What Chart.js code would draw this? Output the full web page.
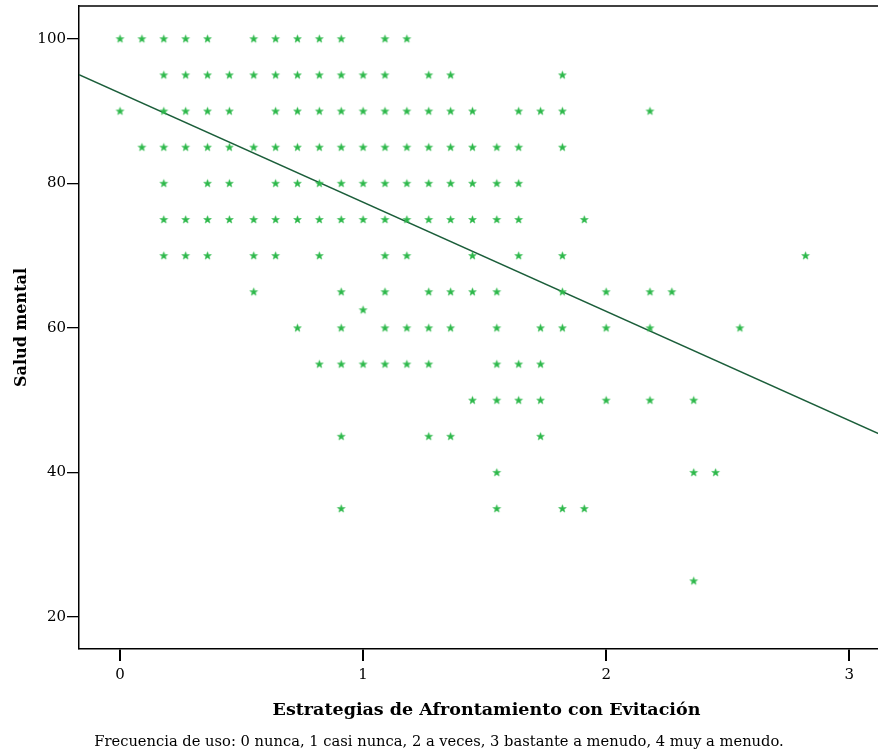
<!DOCTYPE html>
<html>
<head>
<meta charset="utf-8">
<script src="https://cdn.jsdelivr.net/npm/chart.js@4.4.1/dist/chart.umd.min.js"></script>
<style>
    html, body { margin: 0; padding: 0; background: #fff; overflow: hidden; }
    #wrap { position: absolute; left: 0; top: 0; width: 900px; height: 753px; }
    #nota {
        position: absolute; left: 0; top: 732px; width: 878px;
        text-align: center; font-family: "DejaVu Serif", serif; font-size: 14.7px; color: #000;
    }
</style>
</head>
<body>
<div id="wrap"><canvas id="grafico" width="900" height="753"></canvas></div>
<div id="nota">Frecuencia de uso: 0 nunca, 1 casi nunca, 2 a veces, 3 bastante a menudo, 4 muy a menudo.</div>
<script>
// ============================================
// DATOS
// ============================================

// Niveles de salud mental (eje Y) donde aparecen casos
const saludNiveles = [100, 95, 90, 85, 80, 75, 70, 65, 62.5, 60, 55, 50, 45, 40, 35, 25];

// Puntuaciones de evitación (eje X) para cada nivel, mismo orden que saludNiveles
const evitacionPorNivel = [
    [0, 0.09, 0.18, 0.27, 0.36, 0.55, 0.64, 0.73, 0.82, 0.91, 1.09, 1.18],
    [0.18, 0.27, 0.36, 0.45, 0.55, 0.64, 0.73, 0.82, 0.91, 1.00, 1.09, 1.27, 1.36, 1.82],
    [0, 0.18, 0.27, 0.36, 0.45, 0.64, 0.73, 0.82, 0.91, 1.00, 1.09, 1.18, 1.27, 1.36, 1.45, 1.64, 1.73, 1.82, 2.18],
    [0.09, 0.18, 0.27, 0.36, 0.45, 0.55, 0.64, 0.73, 0.82, 0.91, 1.00, 1.09, 1.18, 1.27, 1.36, 1.45, 1.55, 1.64, 1.82],
    [0.18, 0.36, 0.45, 0.64, 0.73, 0.82, 0.91, 1.00, 1.09, 1.18, 1.27, 1.36, 1.45, 1.55, 1.64],
    [0.18, 0.27, 0.36, 0.45, 0.55, 0.64, 0.73, 0.82, 0.91, 1.00, 1.09, 1.18, 1.27, 1.36, 1.45, 1.55, 1.64, 1.91],
    [0.18, 0.27, 0.36, 0.55, 0.64, 0.82, 1.09, 1.18, 1.45, 1.64, 1.82, 2.82],
    [0.55, 0.91, 1.09, 1.27, 1.36, 1.45, 1.55, 1.82, 2.00, 2.18, 2.27],
    [1.00],
    [0.73, 0.91, 1.09, 1.18, 1.27, 1.36, 1.55, 1.73, 1.82, 2.00, 2.18, 2.55],
    [0.82, 0.91, 1.00, 1.09, 1.18, 1.27, 1.55, 1.64, 1.73],
    [1.45, 1.55, 1.64, 1.73, 2.00, 2.18, 2.36],
    [0.91, 1.27, 1.36, 1.73],
    [1.55, 2.36, 2.45],
    [0.91, 1.55, 1.82, 1.91],
    [2.36]
];

// Recta de regresión (ajuste lineal)
const intercepto = 92.49;
const pendiente = -15.10;

// Ejes
const xTicks = [0, 1, 2, 3];
const yTicks = [20, 40, 60, 80, 100];
const xMin = -0.1687, xMax = 3.184;
const yMin = 15.57, yMax = 104.53;

const tituloX = 'Estrategias de Afrontamiento con Evitación';
const tituloY = 'Salud mental';

// ============================================
// MARCADOR (asterisco verde)
// ============================================

function crearEstrella(color) {
    const c = document.createElement('canvas');
    c.width = 11; c.height = 11;
    const g = c.getContext('2d');
    g.fillStyle = color;
    g.strokeStyle = color;
    g.lineWidth = 0.5;
    g.lineJoin = 'round';
    g.beginPath();
    for (let i = 0; i < 10; i++) {
        const r = i % 2 === 0 ? 4.1 : 1.7;
        const a = -Math.PI / 2 + i * Math.PI / 5;
        const px = 5.5 + r * Math.cos(a);
        const py = 5.8 + r * Math.sin(a);
        if (i === 0) g.moveTo(px, py); else g.lineTo(px, py);
    }
    g.closePath();
    g.fill();
    g.stroke();
    return c;
}

const estrella = crearEstrella('#2db84a');

// ============================================
// CONSTRUIR PUNTOS
// ============================================

const puntos = [];
saludNiveles.forEach((nivel, i) => {
    evitacionPorNivel[i].forEach(x => puntos.push({ x: x, y: nivel }));
});

const recta = [
    { x: xMin, y: intercepto + pendiente * xMin },
    { x: xMax, y: intercepto + pendiente * xMax }
];

// Marco superior del área (el original es una caja)
const marcoPlugin = {
    id: 'marco',
    afterDraw(chart) {
        const { ctx, chartArea } = chart;
        ctx.save();
        ctx.strokeStyle = '#000';
        ctx.lineWidth = 1.5;
        ctx.beginPath();
        ctx.moveTo(chartArea.left, chartArea.top);
        ctx.lineTo(chartArea.right, chartArea.top);
        ctx.stroke();
        ctx.restore();
    }
};

// sin márgenes extra por las etiquetas de los extremos
function sinPadding(s) {
    s.paddingTop = 0; s.paddingBottom = 0;
    s.paddingLeft = 0; s.paddingRight = 0;
}

const fuente = '"DejaVu Serif", serif';

new Chart(document.getElementById('grafico').getContext('2d'), {
    type: 'scatter',
    data: {
        datasets: [
            {
                label: 'Casos',
                data: puntos,
                pointStyle: estrella,
                pointRadius: 5,
                pointHoverRadius: 5
            },
            {
                type: 'line',
                label: 'Ajuste',
                data: recta,
                borderColor: '#1b5e3a',
                borderWidth: 1.5,
                pointRadius: 0,
                fill: false,
                tension: 0
            }
        ]
    },
    options: {
        responsive: false,
        animation: false,
        layout: { padding: { top: 6, left: 0, right: 0, bottom: 0 } },
        plugins: { legend: { display: false }, tooltip: { enabled: false } },
        scales: {
            x: {
                type: 'linear',
                min: xMin,
                max: xMax,
                afterBuildTicks: s => { s.ticks = xTicks.map(v => ({ value: v })); },
                afterFit: s => { s.height = 104; sinPadding(s); },
                grid: { drawOnChartArea: false, drawTicks: true, tickLength: 12, color: '#000', lineWidth: 2 },
                border: { display: true, color: '#000', width: 1.5 },
                ticks: { color: '#000', padding: 5, font: { family: fuente, size: 15 }, maxRotation: 0 },
                title: {
                    display: true, text: tituloX, color: '#000',
                    font: { family: fuente, size: 17.5, weight: 'bold' },
                    padding: { top: 0, bottom: 32 }
                }
            },
            y: {
                type: 'linear',
                min: yMin,
                max: yMax,
                afterBuildTicks: s => { s.ticks = yTicks.map(v => ({ value: v })); },
                afterFit: s => { s.width = 79; sinPadding(s); },
                grid: { drawOnChartArea: false, drawTicks: true, tickLength: 12, color: '#000', lineWidth: 1.3 },
                border: { display: true, color: '#000', width: 1.5 },
                ticks: { color: '#000', padding: 1, font: { family: fuente, size: 15 } },
                title: {
                    display: true, text: tituloY, color: '#000',
                    font: { family: fuente, size: 16, weight: 'bold' },
                    padding: { top: 12, bottom: 0 }
                }
            }
        }
    },
    plugins: [marcoPlugin]
});
</script>
</body>
</html>
